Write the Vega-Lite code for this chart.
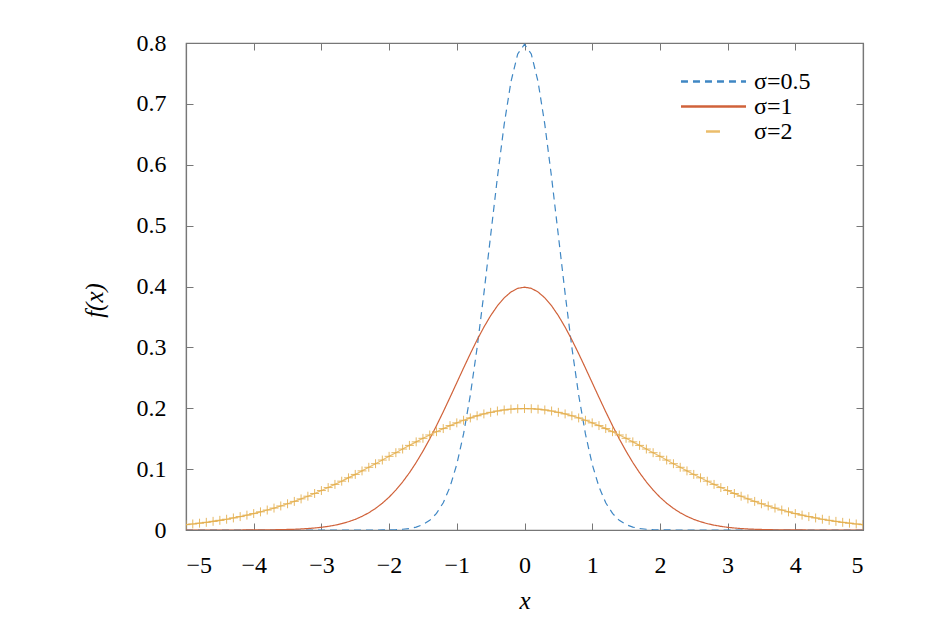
{
  "$schema": "https://vega.github.io/schema/vega-lite/v6.json",
  "width": 677,
  "height": 487,
  "autosize": {"type": "none"},
  "padding": {"left": 186, "top": 43, "right": 82, "bottom": 92},
  "background": "white",
  "config": {
    "font": "Liberation Serif, DejaVu Serif, serif",
    "view": {"stroke": "#777777", "strokeWidth": 1.2},
    "axis": {
      "labelFont": "Liberation Serif, DejaVu Serif, serif",
      "labelFontSize": 24,
      "labelColor": "black",
      "titleFont": "Liberation Serif, DejaVu Serif, serif",
      "titleFontSize": 25,
      "titleFontStyle": "italic",
      "titleFontWeight": "normal",
      "titleColor": "black",
      "grid": false,
      "domainColor": "#777777",
      "domainWidth": 1.2,
      "tickColor": "#777777",
      "tickSize": -7
    },
    "legend": {"labelFont": "Liberation Serif, DejaVu Serif, serif"}
  },
  "data": {
    "values": [
      {"x": -5.0, "a": 0, "b": 0, "c": 0.0088},
      {"x": -4.9, "a": 0, "b": 0, "c": 0.0099},
      {"x": -4.8, "a": 0, "b": 0, "c": 0.0112},
      {"x": -4.7, "a": 0, "b": 0, "c": 0.0126},
      {"x": -4.6, "a": 0, "b": 0, "c": 0.0142},
      {"x": -4.5, "a": 0, "b": 0, "c": 0.0159},
      {"x": -4.4, "a": 0, "b": 0, "c": 0.0177},
      {"x": -4.3, "a": 0, "b": 0, "c": 0.0198},
      {"x": -4.2, "a": 0, "b": 0, "c": 0.0220},
      {"x": -4.1, "a": 0, "b": 0.0001, "c": 0.0244},
      {"x": -4.0, "a": 0, "b": 0.0001, "c": 0.0270},
      {"x": -3.9, "a": 0, "b": 0.0002, "c": 0.0298},
      {"x": -3.8, "a": 0, "b": 0.0003, "c": 0.0328},
      {"x": -3.7, "a": 0, "b": 0.0004, "c": 0.0360},
      {"x": -3.6, "a": 0, "b": 0.0006, "c": 0.0395},
      {"x": -3.5, "a": 0, "b": 0.0009, "c": 0.0431},
      {"x": -3.4, "a": 0, "b": 0.0012, "c": 0.0470},
      {"x": -3.3, "a": 0, "b": 0.0017, "c": 0.0511},
      {"x": -3.2, "a": 0, "b": 0.0024, "c": 0.0555},
      {"x": -3.1, "a": 0, "b": 0.0033, "c": 0.0600},
      {"x": -3.0, "a": 0, "b": 0.0044, "c": 0.0648},
      {"x": -2.9, "a": 0, "b": 0.0060, "c": 0.0697},
      {"x": -2.8, "a": 0, "b": 0.0079, "c": 0.0749},
      {"x": -2.7, "a": 0, "b": 0.0104, "c": 0.0802},
      {"x": -2.6, "a": 0, "b": 0.0136, "c": 0.0857},
      {"x": -2.5, "a": 0, "b": 0.0175, "c": 0.0913},
      {"x": -2.4, "a": 0, "b": 0.0224, "c": 0.0971},
      {"x": -2.3, "a": 0, "b": 0.0283, "c": 0.1030},
      {"x": -2.2, "a": 0, "b": 0.0355, "c": 0.1089},
      {"x": -2.1, "a": 0.0001, "b": 0.0440, "c": 0.1149},
      {"x": -2.0, "a": 0.0003, "b": 0.0540, "c": 0.1210},
      {"x": -1.9, "a": 0.0006, "b": 0.0656, "c": 0.1270},
      {"x": -1.8, "a": 0.0012, "b": 0.0790, "c": 0.1330},
      {"x": -1.7, "a": 0.0025, "b": 0.0940, "c": 0.1390},
      {"x": -1.6, "a": 0.0048, "b": 0.1109, "c": 0.1448},
      {"x": -1.5, "a": 0.0089, "b": 0.1295, "c": 0.1506},
      {"x": -1.4, "a": 0.0158, "b": 0.1497, "c": 0.1561},
      {"x": -1.3, "a": 0.0272, "b": 0.1714, "c": 0.1615},
      {"x": -1.2, "a": 0.0448, "b": 0.1942, "c": 0.1666},
      {"x": -1.1, "a": 0.0709, "b": 0.2179, "c": 0.1715},
      {"x": -1.0, "a": 0.1080, "b": 0.2420, "c": 0.1760},
      {"x": -0.9, "a": 0.1579, "b": 0.2661, "c": 0.1803},
      {"x": -0.8, "a": 0.2218, "b": 0.2897, "c": 0.1841},
      {"x": -0.7, "a": 0.2995, "b": 0.3123, "c": 0.1876},
      {"x": -0.6, "a": 0.3884, "b": 0.3332, "c": 0.1907},
      {"x": -0.5, "a": 0.4839, "b": 0.3521, "c": 0.1933},
      {"x": -0.4, "a": 0.5794, "b": 0.3683, "c": 0.1955},
      {"x": -0.3, "a": 0.6664, "b": 0.3814, "c": 0.1972},
      {"x": -0.2, "a": 0.7365, "b": 0.3910, "c": 0.1985},
      {"x": -0.1, "a": 0.7821, "b": 0.3970, "c": 0.1992},
      {"x": 0.0, "a": 0.7979, "b": 0.3989, "c": 0.1995},
      {"x": 0.1, "a": 0.7821, "b": 0.3970, "c": 0.1992},
      {"x": 0.2, "a": 0.7365, "b": 0.3910, "c": 0.1985},
      {"x": 0.3, "a": 0.6664, "b": 0.3814, "c": 0.1972},
      {"x": 0.4, "a": 0.5794, "b": 0.3683, "c": 0.1955},
      {"x": 0.5, "a": 0.4839, "b": 0.3521, "c": 0.1933},
      {"x": 0.6, "a": 0.3884, "b": 0.3332, "c": 0.1907},
      {"x": 0.7, "a": 0.2995, "b": 0.3123, "c": 0.1876},
      {"x": 0.8, "a": 0.2218, "b": 0.2897, "c": 0.1841},
      {"x": 0.9, "a": 0.1579, "b": 0.2661, "c": 0.1803},
      {"x": 1.0, "a": 0.1080, "b": 0.2420, "c": 0.1760},
      {"x": 1.1, "a": 0.0709, "b": 0.2179, "c": 0.1715},
      {"x": 1.2, "a": 0.0448, "b": 0.1942, "c": 0.1666},
      {"x": 1.3, "a": 0.0272, "b": 0.1714, "c": 0.1615},
      {"x": 1.4, "a": 0.0158, "b": 0.1497, "c": 0.1561},
      {"x": 1.5, "a": 0.0089, "b": 0.1295, "c": 0.1506},
      {"x": 1.6, "a": 0.0048, "b": 0.1109, "c": 0.1448},
      {"x": 1.7, "a": 0.0025, "b": 0.0940, "c": 0.1390},
      {"x": 1.8, "a": 0.0012, "b": 0.0790, "c": 0.1330},
      {"x": 1.9, "a": 0.0006, "b": 0.0656, "c": 0.1270},
      {"x": 2.0, "a": 0.0003, "b": 0.0540, "c": 0.1210},
      {"x": 2.1, "a": 0.0001, "b": 0.0440, "c": 0.1149},
      {"x": 2.2, "a": 0, "b": 0.0355, "c": 0.1089},
      {"x": 2.3, "a": 0, "b": 0.0283, "c": 0.1030},
      {"x": 2.4, "a": 0, "b": 0.0224, "c": 0.0971},
      {"x": 2.5, "a": 0, "b": 0.0175, "c": 0.0913},
      {"x": 2.6, "a": 0, "b": 0.0136, "c": 0.0857},
      {"x": 2.7, "a": 0, "b": 0.0104, "c": 0.0802},
      {"x": 2.8, "a": 0, "b": 0.0079, "c": 0.0749},
      {"x": 2.9, "a": 0, "b": 0.0060, "c": 0.0697},
      {"x": 3.0, "a": 0, "b": 0.0044, "c": 0.0648},
      {"x": 3.1, "a": 0, "b": 0.0033, "c": 0.0600},
      {"x": 3.2, "a": 0, "b": 0.0024, "c": 0.0555},
      {"x": 3.3, "a": 0, "b": 0.0017, "c": 0.0511},
      {"x": 3.4, "a": 0, "b": 0.0012, "c": 0.0470},
      {"x": 3.5, "a": 0, "b": 0.0009, "c": 0.0431},
      {"x": 3.6, "a": 0, "b": 0.0006, "c": 0.0395},
      {"x": 3.7, "a": 0, "b": 0.0004, "c": 0.0360},
      {"x": 3.8, "a": 0, "b": 0.0003, "c": 0.0328},
      {"x": 3.9, "a": 0, "b": 0.0002, "c": 0.0298},
      {"x": 4.0, "a": 0, "b": 0.0001, "c": 0.0270},
      {"x": 4.1, "a": 0, "b": 0.0001, "c": 0.0244},
      {"x": 4.2, "a": 0, "b": 0, "c": 0.0220},
      {"x": 4.3, "a": 0, "b": 0, "c": 0.0198},
      {"x": 4.4, "a": 0, "b": 0, "c": 0.0177},
      {"x": 4.5, "a": 0, "b": 0, "c": 0.0159},
      {"x": 4.6, "a": 0, "b": 0, "c": 0.0142},
      {"x": 4.7, "a": 0, "b": 0, "c": 0.0126},
      {"x": 4.8, "a": 0, "b": 0, "c": 0.0112},
      {"x": 4.9, "a": 0, "b": 0, "c": 0.0099},
      {"x": 5.0, "a": 0, "b": 0, "c": 0.0088}
    ]
  },
  "transform": [{"fold": ["a", "b", "c"], "as": ["series", "f"]}],
  "resolve": {"axis": {"x": "independent", "y": "independent"}},
  "layer": [
    {
      "mark": {"type": "line", "strokeWidth": 1.2, "clip": true},
      "encoding": {
        "x": {
          "field": "x",
          "type": "quantitative",
          "scale": {"domain": [-5, 5], "nice": false},
          "axis": {
            "values": [-5, -4, -3, -2, -1, 0, 1, 2, 3, 4, 5],
            "format": "d",
            "title": "x",
            "labelPadding": 30,
            "titleX": 338.5,
            "titleY": 70,
            "titleBaseline": "middle"
          }
        },
        "y": {
          "field": "f",
          "type": "quantitative",
          "scale": {"domain": [0, 0.8], "nice": false},
          "axis": {
            "values": [0, 0.1, 0.2, 0.3, 0.4, 0.5, 0.6, 0.7, 0.8],
            "format": "~g",
            "title": "f(x)",
            "labelPadding": 27,
            "titleX": -92,
            "titleY": 257,
            "titleAlign": "center",
            "titleBaseline": "middle"
          }
        },
        "color": {
          "field": "series",
          "type": "nominal",
          "scale": {"domain": ["a", "b", "c"], "range": ["#3f87c4", "#d0623a", "#ebbd6b"]},
          "legend": {
            "title": null,
            "orient": "none",
            "legendX": 515,
            "legendY": 26,
            "symbolType": "M-3,0L3,0",
            "symbolSize": 470,
            "symbolStrokeWidth": 2.5,
            "labelFont": "Liberation Serif, DejaVu Serif, serif",
            "labelFontSize": 24,
            "labelColor": "black",
            "labelOffset": 28,
            "rowPadding": 0,
            "labelExpr": "datum.label == 'a' ? 'σ=0.5' : datum.label == 'b' ? 'σ=1' : 'σ=2'"
          }
        },
        "strokeDash": {
          "field": "series",
          "type": "nominal",
          "scale": {"domain": ["a", "b", "c"], "range": [[7, 5], [1, 0], [0, 25, 14, 100]]},
          "legend": {
            "title": null,
            "orient": "none",
            "legendX": 515,
            "legendY": 26,
            "symbolType": "M-3,0L3,0",
            "symbolSize": 470,
            "symbolStrokeWidth": 2.5,
            "labelFont": "Liberation Serif, DejaVu Serif, serif",
            "labelFontSize": 24,
            "labelColor": "black",
            "labelOffset": 28,
            "rowPadding": 0,
            "labelExpr": "datum.label == 'a' ? 'σ=0.5' : datum.label == 'b' ? 'σ=1' : 'σ=2'"
          }
        }
      }
    },
    {
      "transform": [{"filter": "datum.series == 'c'"}],
      "mark": {"type": "line", "strokeWidth": 1.2, "color": "#ebbd6b", "clip": true},
      "encoding": {
        "x": {"field": "x", "type": "quantitative", "axis": null},
        "y": {"field": "f", "type": "quantitative", "axis": null}
      }
    },
    {
      "transform": [{"filter": "datum.series == 'c'"}],
      "mark": {"type": "point", "shape": "M-1,0L1,0M0,-1L0,1", "size": 80, "filled": false, "strokeWidth": 1, "color": "#e3ad4a", "opacity": 0.85, "clip": true},
      "encoding": {
        "x": {
          "field": "x",
          "type": "quantitative",
          "axis": {"orient": "top", "values": [-5, -4, -3, -2, -1, 0, 1, 2, 3, 4, 5], "labels": false, "title": null}
        },
        "y": {
          "field": "f",
          "type": "quantitative",
          "axis": {"orient": "right", "values": [0, 0.1, 0.2, 0.3, 0.4, 0.5, 0.6, 0.7, 0.8], "labels": false, "title": null}
        }
      }
    }
  ]
}
